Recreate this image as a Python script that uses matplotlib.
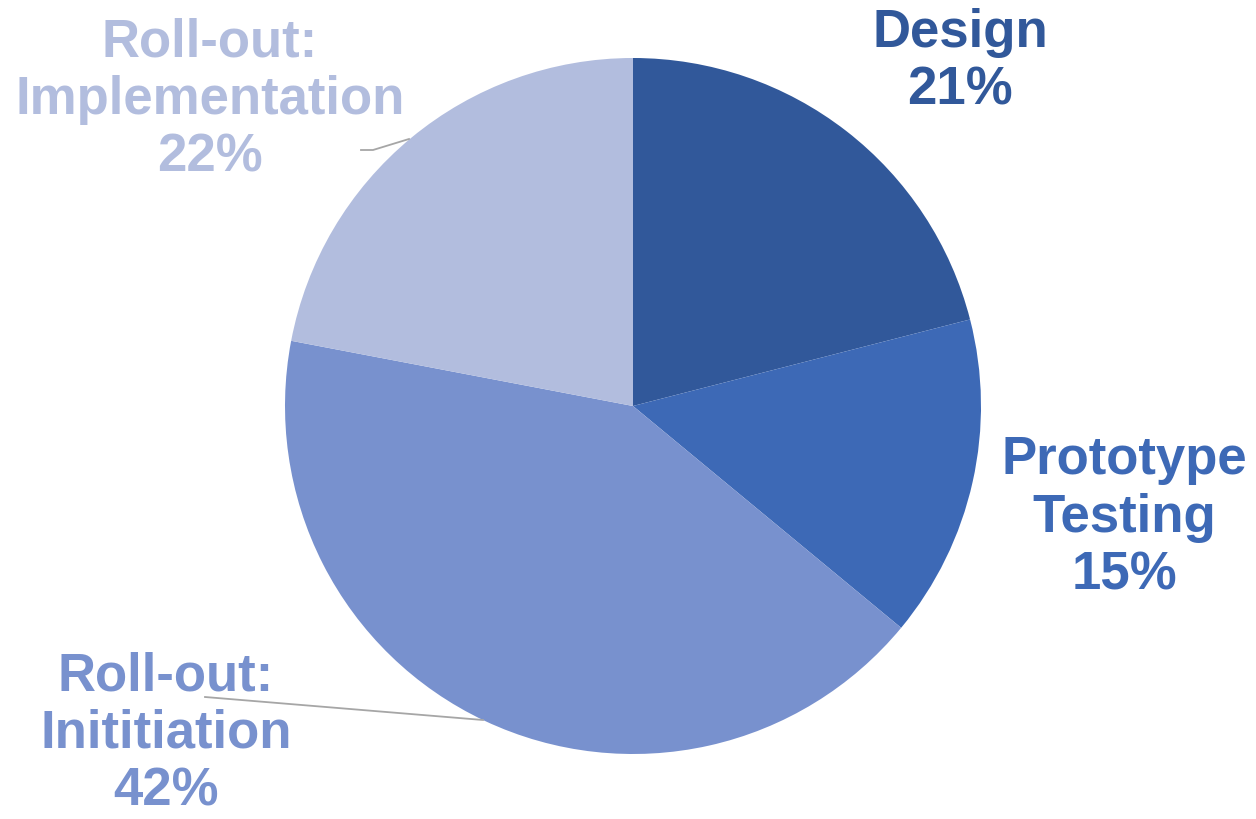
import matplotlib.pyplot as plt

phases = ['Design', 'Prototype\nTesting', 'Roll-out:\nInititiation', 'Roll-out:\nImplementation']
shares = [21, 15, 42, 22]
colors = ['#31589A', '#3D69B6', '#7891CE', '#B2BDDE']

W, H = 1256, 819
cx, cy, r = 633, H - 406, 348

fig = plt.figure(figsize=(W / 100, H / 100), dpi=100)
ax = fig.add_axes([0, 0, 1, 1])

ax.pie(shares, colors=colors, startangle=90, counterclock=False,
       center=(cx, cy), radius=r, frame=True,
       wedgeprops=dict(linewidth=0))
ax.set_xlim(0, W)
ax.set_ylim(0, H)
ax.set_aspect('equal')
ax.axis('off')

# label anchors (pixel positions, y from top)
label_pos = [(960, 62), (1124, 518), (166, 734), (210, 100)]
for name, val, col, (x, y) in zip(phases, shares, colors, label_pos):
    ax.text(x, H - y, f'{name}\n{val}%', color=col, ha='center', va='center',
            fontsize=38, fontweight='bold', family='Liberation Sans',
            linespacing=1.2)

# leader lines
ax.plot([361, 373, 409], [H - 150, H - 150, H - 139], color='#A6A6A6', lw=1.3)
ax.plot([205, 483], [H - 697, H - 720], color='#A6A6A6', lw=1.3)

fig.savefig('out.png', dpi=100)
